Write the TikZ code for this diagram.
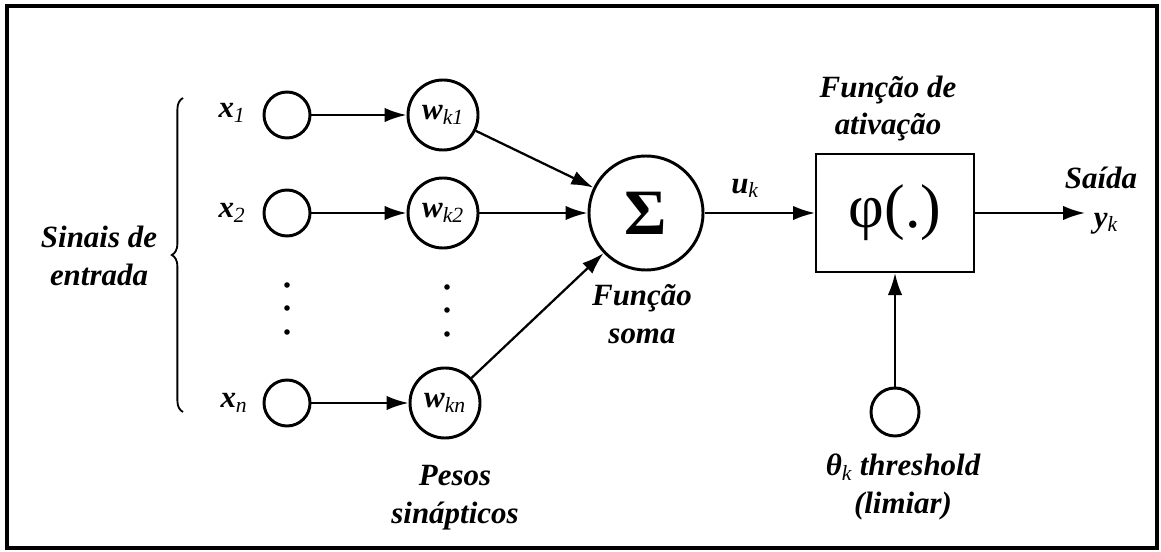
\documentclass[tikz,border=0pt]{standalone}
\usepackage{fontspec}
\setmainfont{Liberation Serif}
\usetikzlibrary{arrows.meta,decorations.pathreplacing}

\newcommand{\varsub}[2]{\textbf{\textit{#1}}\textsubscript{\mdseries\itshape #2}}

\begin{document}
\begin{tikzpicture}[x=0.025cm, y=-0.025cm,
    lbl/.style={font=\fontsize{22}{27}\selectfont\bfseries\itshape, inner sep=0pt, align=center},
    inp/.style={draw, circle, line width=2.1pt, minimum size=1.15cm, inner sep=0pt},
    wgt/.style={draw, circle, line width=2.1pt, minimum size=1.75cm, inner sep=0pt, font=\fontsize{22}{22}\selectfont},
    arr/.style={-{Latex[length=5.5mm,width=3.6mm]}, line width=1.6pt},
    pto/.style={circle, fill, inner sep=0pt, minimum size=1.4mm}]
  \useasboundingbox (0,0) rectangle (1161,551);
  \draw[line width=2.2pt] (7,6) rectangle (1157,548);

  % entradas e pesos
  \node[inp] (x1) at (287,115) {};
  \node[inp] (x2) at (287,213) {};
  \node[inp] (xn) at (287,403) {};
  \node[wgt] (w1) at (443,115) {\varsub{w}{k1}};
  \node[wgt] (w2) at (443,213) {\varsub{w}{k2}};
  \node[wgt] (wn) at (445,403) {\varsub{w}{kn}};

  \node[lbl] (lx1) at (232,113) {\varsub{x}{1}};
  \node[lbl] (lx2) at (232,213) {\varsub{x}{2}};
  \node[lbl] (lxn) at (234,403) {\varsub{x}{n}};

  \foreach \yy [count=\i] in {285,308,332} {
    \node[pto] (px\i) at (287,\yy) {};
    \node[pto] (pw\i) at (447,\yy+2) {};
  }

  % soma e ativacao
  \node[draw, circle, line width=2.1pt, minimum size=2.85cm, inner sep=0pt,
        font=\fontsize{46}{46}\selectfont\bfseries] (soma) at (646,213) {Σ};
  \node[draw, line width=1.4pt, minimum width=3.95cm, minimum height=2.95cm,
        font=\fontsize{44}{44}\selectfont] (ativ) at (895,213) {φ(.)};
  \node[inp, minimum size=1.2cm] (theta) at (895,412) {};
  \coordinate (saida) at (1085,213);

  \draw[arr] (x1) -- (w1);
  \draw[arr] (x2) -- (w2);
  \draw[arr] (xn) -- (wn);
  \draw[arr] (w1) -- (soma);
  \draw[arr] (w2) -- (soma);
  \draw[arr] (wn) -- (soma);
  \draw[arr] (soma) -- (ativ);
  \draw[arr] (ativ) -- (saida);
  \draw[arr] (theta) -- (ativ);

  % chave
  \coordinate (cb) at (183,412);
  \coordinate (ct) at (183,98);
  \draw[line width=1.3pt, decorate, decoration={brace, amplitude=0.28cm}] (cb) -- (ct);

  % textos
  \node[lbl, anchor=base] (sinais) at (99,285) {Sinais de\\entrada};
  \node[lbl, anchor=base] (pesos) at (455,523) {Pesos\\sinápticos};
  \node[lbl, anchor=base] (fsoma) at (642,343) {Função\\soma};
  \node[lbl, anchor=base] (fativ) at (888,135) {Função de\\ativação};
  \node[lbl, anchor=base] (uk) at (745,193) {\varsub{u}{k}};
  \node[lbl, anchor=base] (lsaida) at (1101,188) {Saída};
  \node[lbl, anchor=base] (yk) at (1106,227) {\varsub{y}{k}};
  \node[lbl, anchor=base] (thr) at (903,513) {\varsub{θ}{k} threshold\\(limiar)};
\end{tikzpicture}
\end{document}
